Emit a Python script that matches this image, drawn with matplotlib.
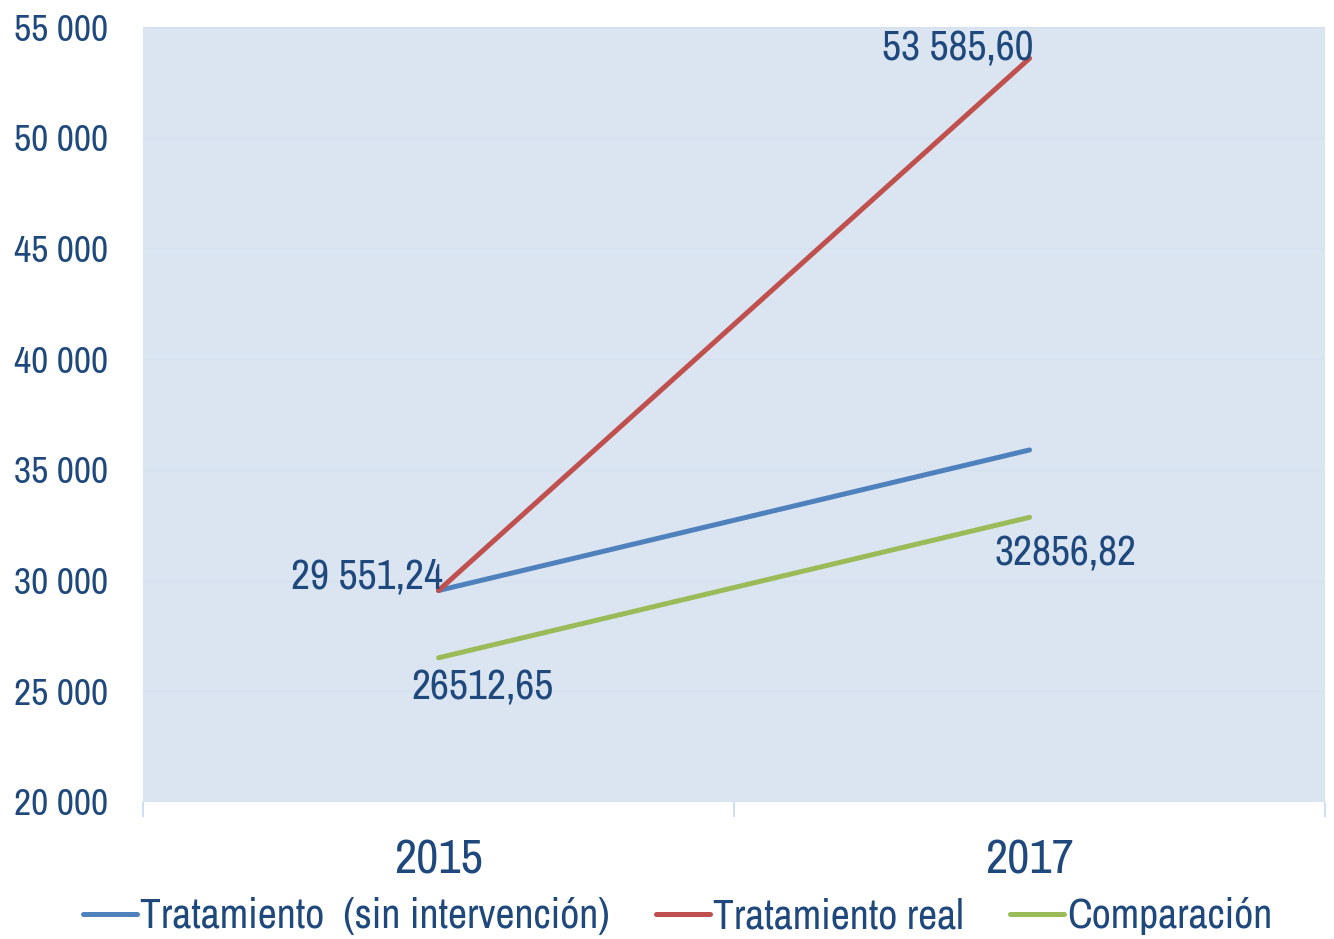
import matplotlib
matplotlib.use('Agg')
from matplotlib import pyplot as plt
from matplotlib import font_manager
from matplotlib.ticker import FuncFormatter

years = ['2015', '2017']
sin_intervencion = [29551.24, 35900]
tratamiento_real = [29551.24, 53585.60]
comparacion = [26512.65, 32856.82]

labels_serie = ['Tratamiento  (sin intervención)', 'Tratamiento real', 'Comparación']
colores = ['#4F81BD', '#C0504D', '#9BBB59']
texto = '#1F497D'

# buscar una fuente estrecha tipo Arial Narrow
nombres = set(f.name for f in font_manager.fontManager.ttflist)
narrow = [n for n in sorted(nombres) if 'Narrow' in n or 'Condensed' in n]
if narrow:
    fuente, k = narrow[0], 1.0
else:
    fuente, k = 'Liberation Sans', 0.84
plt.rcParams['font.family'] = [fuente, 'DejaVu Sans']

fig = plt.figure(figsize=(13.34, 9.39), dpi=100)
ax = fig.add_axes([0.1072, 0.1459, 0.8861, 0.8253])
ax.set_facecolor('#DBE5F1')

x = [0, 1]
for serie, c, lab in zip([sin_intervencion, tratamiento_real, comparacion], colores, labels_serie):
    ax.plot(x, serie, c=c, lw=3.6, solid_capstyle='round', label=lab)

ax.set_xlim(-0.5, 1.5)
ax.set_ylim(20000, 55000)
ax.set_yticks(range(20000, 55001, 5000))
ax.yaxis.set_major_formatter(FuncFormatter(lambda v, p: '{:,.0f}'.format(v).replace(',', ' ')))
ax.grid(axis='y', color='#D3E0F0', lw=1)
ax.set_axisbelow(True)

ax.set_xticks(x)
ax.set_xticklabels(years)
ax.set_xticks([-0.5, 0.5, 1.5], minor=True)
ax.tick_params(axis='x', which='major', length=0, pad=26, labelsize=35 * k, labelcolor=texto)
ax.tick_params(axis='x', which='minor', length=11, width=1.2, color='#C6D9F1')
ax.tick_params(axis='y', length=0, pad=25, labelsize=27 * k, labelcolor=texto)
for s in ax.spines.values():
    s.set_visible(False)

# etiquetas de datos
ax.annotate('53 585,60', (1, tratamiento_real[1]), xytext=(4, 10), textcoords='offset pixels',
            ha='right', va='center', fontsize=30 * k, color=texto)
ax.annotate('29 551,24', (0, tratamiento_real[0]), xytext=(4, 14), textcoords='offset pixels',
            ha='right', va='center', fontsize=30 * k, color=texto)
ax.annotate('26512,65', (0, comparacion[0]), xytext=(44, -30), textcoords='offset pixels',
            ha='center', va='center', fontsize=30 * k, color=texto)
ax.annotate('32856,82', (1, comparacion[1]), xytext=(36, -36), textcoords='offset pixels',
            ha='center', va='center', fontsize=30 * k, color=texto)

leg = fig.legend(loc='lower center', bbox_to_anchor=(0.508, -0.036), ncol=3, frameon=False,
                 fontsize=30 * k, handlelength=1.3 / k, handletextpad=0.08, columnspacing=1.1 / k)
for t in leg.get_texts():
    t.set_color(texto)

fig.savefig('out.png', dpi=100)
